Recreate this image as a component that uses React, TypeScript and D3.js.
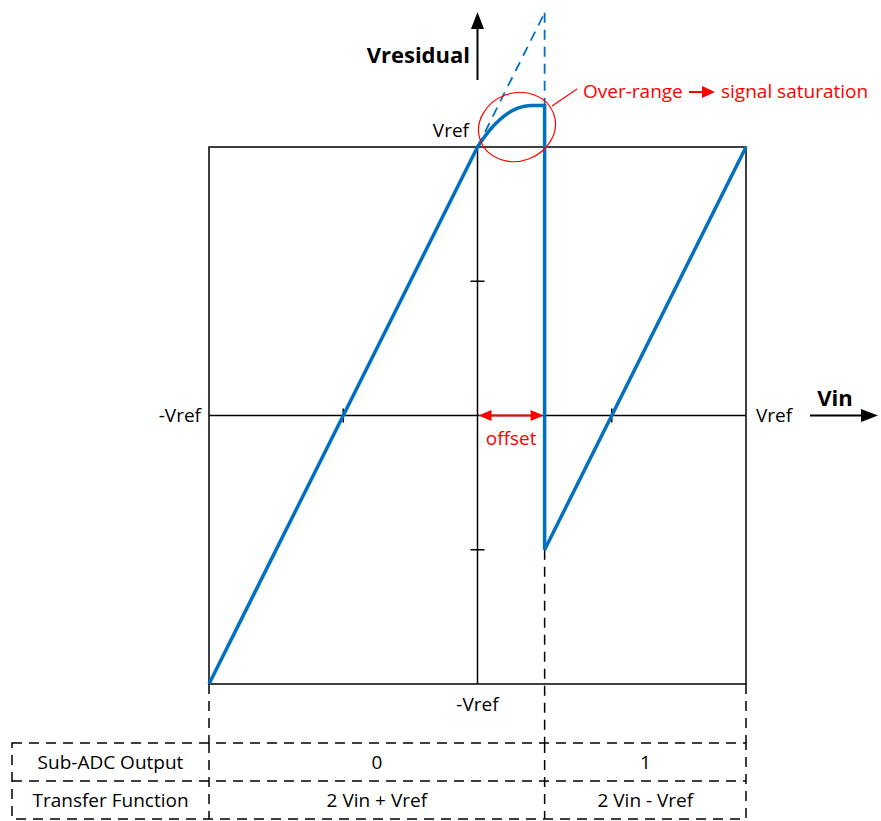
import React from "react";
import * as d3 from "d3";

// Transfer characteristic of a 1-bit pipeline stage (values in units of Vref)
const rampLowVin = [-1, 0];
const rampLowRes = [-1, 1];
const satVin = [0, 0.025, 0.05, 0.075, 0.1, 0.125, 0.15, 0.175, 0.2, 0.25];
const satRes = [1, 1.036, 1.068, 1.094, 1.116, 1.133, 1.145, 1.152, 1.155, 1.155];
const idealVin = [0, 0.25];
const idealRes = [1, 1.5];
const rampHighVin = [0.25, 1];
const rampHighRes = [-0.5, 1];
const switchVin = 0.25;
const axisTicks = [-0.5, 0.5];

const tableRows = ["Sub-ADC Output", "Transfer Function"];
const codeLow = ["0", "2 Vin + Vref"];
const codeHigh = ["1", "2 Vin - Vref"];

const W = 881;
const H = 821;
const BLUE = "#0070C0";
const RED = "#FF0000";
const FONT = "'Open Sans', 'Liberation Sans', sans-serif";

// filled triangular arrow head with its tip at (tx, ty), pointing along angle (radians)
function head(tx: number, ty: number, angle: number, len: number, half: number) {
  const bx = tx - len * Math.cos(angle);
  const by = ty - len * Math.sin(angle);
  const px = -Math.sin(angle) * half;
  const py = Math.cos(angle) * half;
  return `M${tx},${ty} L${bx + px},${by + py} L${bx - px},${by - py} Z`;
}

export default function App() {
  const x = d3.scaleLinear().domain([-1, 1]).range([209, 746]);
  const y = d3.scaleLinear().domain([-1, 1]).range([684, 147]);

  const line = d3
    .line<[number, number]>()
    .x((d) => x(d[0]))
    .y((d) => y(d[1]));
  const smooth = d3
    .line<[number, number]>()
    .x((d) => x(d[0]))
    .y((d) => y(d[1]))
    .curve(d3.curveMonotoneX);

  const zip = (a: number[], b: number[]) => a.map((v, i) => [v, b[i]] as [number, number]);

  const satTop = satRes[satRes.length - 1];
  const x0 = x(0);
  const y0 = y(0);
  const xs = x(switchVin);

  const tTop = 743;
  const tMid = 781;
  const tBot = 819;
  const tLeft = 12;
  const dash = "10 7";

  const cellCenterLow = (x(-1) + xs) / 2;
  const cellCenterHigh = (xs + x(1)) / 2;
  const headerCenter = (tLeft + x(-1)) / 2;

  return (
    <svg
      width={W}
      height={H}
      style={{ position: "absolute", left: 0, top: 0, background: "#fff" }}
      fontFamily={FONT}
    >
      {/* plot frame */}
      <rect x={x(-1)} y={y(1)} width={x(1) - x(-1)} height={y(-1) - y(1)} fill="none" stroke="#000" strokeWidth={1.5} />
      {/* centre axes */}
      <line x1={x(-1)} x2={x(1)} y1={y0} y2={y0} stroke="#000" strokeWidth={1.5} />
      <line x1={x0} x2={x0} y1={y(1)} y2={y(-1)} stroke="#000" strokeWidth={1.5} />
      {axisTicks.map((t) => (
        <g key={t}>
          <line x1={x(t)} x2={x(t)} y1={y0 - 7} y2={y0 + 7} stroke="#000" strokeWidth={1.5} />
          <line x1={x0 - 7} x2={x0 + 7} y1={y(t)} y2={y(t)} stroke="#000" strokeWidth={1.5} />
        </g>
      ))}

      {/* dashed guides down to the table */}
      {[x(-1), xs, x(1)].map((gx, i) => (
        <line key={i} x1={gx} x2={gx} y1={i === 1 ? y(rampHighRes[0]) : y(-1)} y2={tTop} stroke="#000" strokeWidth={1.5} strokeDasharray={dash} />
      ))}

      {/* ideal (unsaturated) response */}
      <path d={line(zip(idealVin, idealRes)) || ""} fill="none" stroke={BLUE} strokeWidth={1.8} strokeDasharray={dash} />
      <line x1={xs} x2={xs} y1={y(idealRes[1])} y2={y(satTop)} stroke={BLUE} strokeWidth={1.8} strokeDasharray={dash} />

      {/* residue curve */}
      <path d={line(zip(rampLowVin, rampLowRes)) || ""} fill="none" stroke={BLUE} strokeWidth={3.5} />
      <path d={smooth(zip(satVin, satRes)) || ""} fill="none" stroke={BLUE} strokeWidth={3.5} />
      <line x1={xs} x2={xs} y1={y(satTop) - 1.5} y2={y(rampHighRes[0])} stroke={BLUE} strokeWidth={3.5} />
      <path d={line(zip(rampHighVin, rampHighRes)) || ""} fill="none" stroke={BLUE} strokeWidth={3.5} />

      {/* axis arrows */}
      <line x1={x0} x2={x0} y1={80} y2={28} stroke="#000" strokeWidth={2} />
      <path d={head(x0, 12, -Math.PI / 2, 17, 6.5)} fill="#000" />
      <text x={470} y={63} textAnchor="end" fontSize={22} fontWeight="bold">Vresidual</text>
      <line x1={810} x2={862} y1={y0} y2={y0} stroke="#000" strokeWidth={2} />
      <path d={head(878, y0, 0, 17, 6.5)} fill="#000" />
      <text x={835} y={406} textAnchor="middle" fontSize={22} fontWeight="bold">Vin</text>

      {/* axis labels */}
      <text x={469} y={137} textAnchor="end" fontSize={19}>Vref</text>
      <text x={201} y={422} textAnchor="end" fontSize={19}>-Vref</text>
      <text x={756} y={422} textAnchor="start" fontSize={19}>Vref</text>
      <text x={x0} y={711} textAnchor="middle" fontSize={19}>-Vref</text>

      {/* offset annotation */}
      <line x1={x0 + 8} x2={xs - 8} y1={y0} y2={y0} stroke={RED} strokeWidth={2} />
      <path d={head(x0 + 1, y0, Math.PI, 13, 5.5)} fill={RED} />
      <path d={head(xs - 1, y0, 0, 13, 5.5)} fill={RED} />
      <text x={(x0 + xs) / 2} y={445} textAnchor="middle" fontSize={19} fill={RED}>offset</text>

      {/* over-range callout */}
      <ellipse cx={517} cy={127} rx={39} ry={34} transform="rotate(-20 517 127)" fill="none" stroke={RED} strokeWidth={1.2} />
      <line x1={552} x2={577} y1={106} y2={89} stroke={RED} strokeWidth={1.2} />
      <text x={583} y={98} fontSize={19} fill={RED}>Over-range</text>
      <line x1={689} x2={704} y1={92} y2={92} stroke={RED} strokeWidth={2} />
      <path d={head(715, 92, 0, 13, 6)} fill={RED} />
      <text x={721} y={98} fontSize={19} fill={RED}>signal saturation</text>

      {/* sub-ADC table */}
      <rect x={tLeft} y={tTop} width={x(1) - tLeft} height={tBot - tTop} fill="none" stroke="#000" strokeWidth={1.5} strokeDasharray={dash} />
      <line x1={tLeft} x2={x(1)} y1={tMid} y2={tMid} stroke="#000" strokeWidth={1.5} strokeDasharray={dash} />
      <line x1={x(-1)} x2={x(-1)} y1={tTop} y2={tBot} stroke="#000" strokeWidth={1.5} strokeDasharray={dash} />
      <line x1={xs} x2={xs} y1={tTop} y2={tBot} stroke="#000" strokeWidth={1.5} strokeDasharray={dash} />
      {tableRows.map((r, i) => {
        const cy = i === 0 ? (tTop + tMid) / 2 : (tMid + tBot) / 2;
        return (
          <g key={r} fontSize={19}>
            <text x={headerCenter} y={cy + 7} textAnchor="middle">{r}</text>
            <text x={cellCenterLow} y={cy + 7} textAnchor="middle">{codeLow[i]}</text>
            <text x={cellCenterHigh} y={cy + 7} textAnchor="middle">{codeHigh[i]}</text>
          </g>
        );
      })}
    </svg>
  );
}
